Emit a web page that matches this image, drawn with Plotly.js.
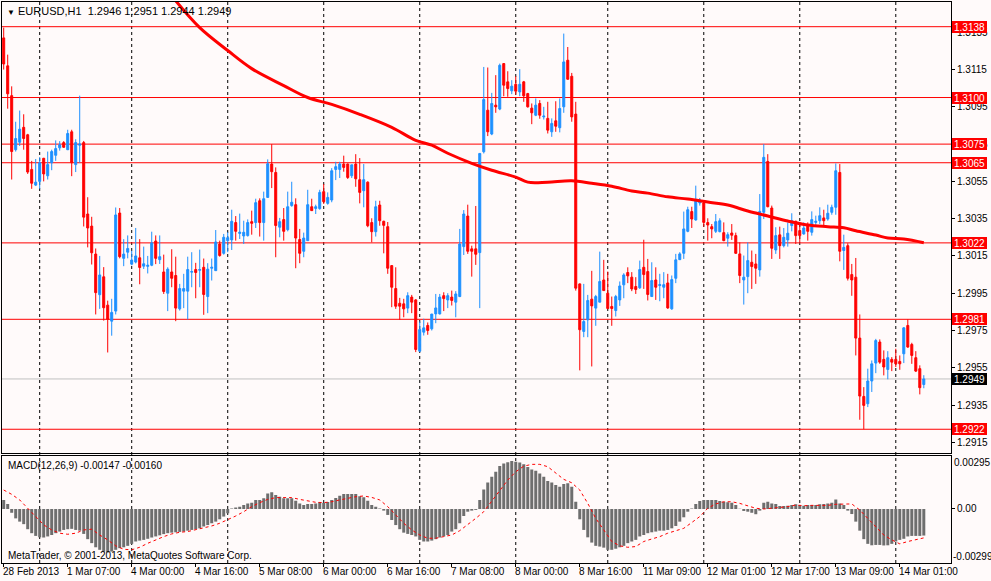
<!DOCTYPE html>
<html>
<head>
<meta charset="utf-8">
<script src="https://cdn.plot.ly/plotly-3.0.1.min.js"></script>
<style>
html,body{margin:0;padding:0;background:#FFFAFA;}
#chart{width:991px;height:581px;}
</style>
</head>
<body>
<div id="chart"></div>
<script>
// EURUSD H1 candles, 28 Feb 2013 15:00 .. 14 Mar 2013 07:00 (one entry per bar)
const open = [1.3132,1.3117,1.3101,1.3072,1.3076,1.3084,1.3080,1.30614,1.3053,1.3055,
1.30674,1.3058,1.3065,1.3069,1.3073,1.30758,1.3072,1.30816,1.3064,1.30744,
1.30758,1.30375,1.3031,1.3016,1.29942,1.30038,1.29886,1.2980,1.29854,1.3038,
1.30137,1.3017,1.30106,1.30117,1.3014,1.30095,1.30094,1.3010,1.3023,1.3013,
1.30064,1.2995,1.30064,1.30045,1.29866,1.29961,1.29961,1.30063,1.30077,1.30073,
1.30089,1.29932,1.30084,1.30071,1.30214,1.30164,1.30232,1.30236,1.30329,1.30271,
1.30257,1.30259,1.30334,1.30329,1.30446,1.30329,1.30464,1.30643,1.30598,1.30304,
1.30345,1.30291,1.3042,1.30425,1.30238,1.30175,1.30232,1.30414,1.30405,1.30404,
1.30495,1.30432,1.3045,1.30614,1.30614,1.30643,1.30643,1.3058,1.30643,1.30559,
1.3050,1.30546,1.30329,1.3028,1.30423,1.30336,1.30307,1.30098,1.29975,1.29896,
1.29893,1.2987,1.29929,1.29914,1.29639,1.29741,1.29777,1.29759,1.29839,1.29839,
1.29937,1.29914,1.29929,1.29902,1.29932,1.3020,1.30364,1.30188,1.30188,1.30168,
1.30709,1.30932,1.30804,1.30959,1.30938,1.31182,1.31084,1.31036,1.31071,1.3103,
1.31084,1.31021,1.30943,1.30905,1.30968,1.30896,1.30888,1.30816,1.30875,1.30838,
1.3095,1.3120,1.31114,1.30911,1.3000,1.29745,1.29807,1.29918,1.2987,1.29902,
1.30021,1.2995,1.29879,1.29857,1.29914,1.29995,1.30061,1.30036,1.29986,1.29979,
1.30089,1.30066,1.29932,1.30021,1.29991,1.29982,1.30005,1.29866,1.3003,1.3013,
1.30164,1.30282,1.30388,1.30343,1.30434,1.30434,1.30329,1.30307,1.30282,1.3028,
1.30275,1.30245,1.30273,1.30259,1.30161,1.30021,1.30039,1.30116,1.30107,1.30075,
1.30384,1.30657,1.30407,1.30182,1.30263,1.30205,1.30236,1.30313,1.30336,1.30286,
1.30268,1.30318,1.30277,1.3033,1.30339,1.30354,1.30348,1.30384,1.30411,1.30598,
1.30179,1.30205,1.3005,1.30036,1.29709,1.29396,1.29357,1.29479,1.29575,1.29688,
1.29595,1.29541,1.29595,1.29595,1.29584,1.29625,1.29777,1.29675,1.29604,1.29545,
1.2946];
const high = [1.31375,1.3123,1.3106,1.3087,1.3093,1.3091,1.30805,1.3066,1.3067,1.3068,
1.30676,1.3071,1.3072,1.3077,1.30766,1.30766,1.30827,1.30827,1.30776,1.3101,
1.30767,1.30465,1.3036,1.3019,1.3015,1.3009,1.2991,1.2992,1.3041,1.30407,
1.3024,1.3026,1.30178,1.3030,1.3024,1.3020,1.3015,1.3028,1.3026,1.3026,
1.30157,1.30089,1.30186,1.30146,1.3000,1.30054,1.30146,1.3017,1.30113,1.30184,
1.30136,1.30111,1.30136,1.30289,1.30232,1.30268,1.30277,1.30398,1.30364,1.30377,
1.30339,1.30346,1.30393,1.30457,1.30459,1.30495,1.30668,1.3075,1.30625,1.30354,
1.30407,1.30495,1.30548,1.30459,1.30295,1.30275,1.30505,1.30457,1.30425,1.30505,
1.30536,1.30491,1.30621,1.30655,1.30655,1.30688,1.30646,1.30639,1.30696,1.30675,
1.30643,1.3055,1.30352,1.30446,1.30446,1.30339,1.30332,1.3010,1.30089,1.29925,
1.2992,1.29955,1.29941,1.29918,1.29798,1.29813,1.29793,1.29839,1.29946,1.29946,
1.29955,1.2995,1.29964,1.29961,1.30295,1.30396,1.30425,1.30205,1.30418,1.3070,
1.31164,1.31161,1.31025,1.3112,1.31182,1.31185,1.31141,1.31093,1.31114,1.31152,
1.31089,1.31025,1.30968,1.30995,1.30986,1.3095,1.30977,1.30888,1.3098,1.30995,
1.31343,1.31271,1.31132,1.30977,1.30002,1.3000,1.29941,1.3007,1.29941,1.30173,
1.30129,1.30066,1.29932,1.29941,1.30013,1.30057,1.30089,1.30063,1.30036,1.30125,
1.30237,1.30134,1.30116,1.30089,1.30054,1.30063,1.30054,1.30045,1.30161,1.3017,
1.30388,1.30414,1.30414,1.30527,1.30461,1.30441,1.30352,1.30321,1.30375,1.30352,
1.3033,1.30277,1.30321,1.30275,1.30223,1.30152,1.30223,1.30179,1.30161,1.30482,
1.3075,1.30696,1.3042,1.30304,1.30307,1.3030,1.3033,1.30379,1.30339,1.3033,
1.3033,1.3033,1.30389,1.30366,1.30411,1.30398,1.30425,1.30425,1.30646,1.30643,
1.30264,1.30218,1.30107,1.30139,1.29836,1.29446,1.29545,1.29589,1.29705,1.29702,
1.29643,1.29639,1.29607,1.29652,1.29616,1.29768,1.2981,1.29684,1.29639,1.29563,
1.2951];
const low = [1.3115,1.3094,1.3056,1.3071,1.3074,1.3072,1.3059,1.3051,1.30525,1.3051,
1.3055,1.3056,1.3061,1.3066,1.30715,1.3073,1.30718,1.30578,1.3060,1.3065,
1.30308,1.30196,1.30104,1.29836,1.29866,1.29803,1.29632,1.29722,1.29836,1.30137,
1.30095,1.30137,1.3010,1.3011,1.29998,1.3008,1.30056,1.30095,1.30106,1.30107,
1.29946,1.29854,1.29982,1.2980,1.29857,1.2987,1.29809,1.29982,1.29923,1.29982,
1.29834,1.29843,1.30018,1.30071,1.30146,1.30157,1.3017,1.30182,1.30232,1.30241,
1.30214,1.30254,1.30264,1.3030,1.30254,1.30232,1.30464,1.30514,1.30143,1.3025,
1.30232,1.30282,1.30414,1.30084,1.30111,1.30143,1.30232,1.30393,1.30375,1.30398,
1.30429,1.30425,1.30438,1.30557,1.30568,1.30602,1.30563,1.30568,1.30521,1.30432,
1.30411,1.30304,1.30223,1.30254,1.30312,1.30164,1.30054,1.29875,1.29866,1.29807,
1.29821,1.29843,1.29843,1.29634,1.29634,1.29723,1.29727,1.2975,1.29789,1.29836,
1.29854,1.2987,1.29884,1.29821,1.29929,1.30155,1.30161,1.30039,1.30102,1.2987,
1.3070,1.30793,1.30798,1.30918,1.30932,1.31007,1.31004,1.31018,1.31016,1.31007,
1.30977,1.30946,1.30857,1.3090,1.30886,1.30882,1.30807,1.30789,1.30816,1.30813,
1.30918,1.31096,1.3087,1.29964,1.29536,1.29714,1.29714,1.29557,1.29775,1.29902,
1.29964,1.29864,1.29775,1.29825,1.29882,1.29923,1.30004,1.29961,1.29946,1.29973,
1.29973,1.29911,1.29932,1.29914,1.29907,1.29923,1.29866,1.29861,1.30004,1.30129,
1.30134,1.30277,1.3030,1.30339,1.3042,1.30307,1.30232,1.30245,1.30273,1.30277,
1.30229,1.3020,1.30236,1.30161,1.30004,1.29889,1.2995,1.29973,1.3000,1.30039,
1.30348,1.30411,1.30134,1.30161,1.30134,1.30196,1.3020,1.30282,1.30214,1.30223,
1.30264,1.30232,1.30259,1.30307,1.30321,1.30313,1.30339,1.30371,1.30371,1.30121,
1.30075,1.30018,1.29936,1.29616,1.29271,1.2922,1.29339,1.2942,1.29521,1.29571,
1.29509,1.29488,1.29532,1.29554,1.29539,1.29575,1.29657,1.29571,1.29527,1.29407,
1.2944];
const close = [1.3118,1.3102,1.3071,1.3078,1.3083,1.3078,1.3060,1.3054,1.30546,1.3065,
1.3059,1.3064,1.3071,1.30726,1.30746,1.30733,1.30807,1.3065,1.30758,1.3075,
1.30358,1.3030,1.30167,1.29953,1.30048,1.29872,1.2981,1.29847,1.3037,1.30146,
1.3016,1.3019,1.30128,1.3015,1.30088,1.30108,1.3010,1.3022,1.30137,1.30146,
1.29959,1.30079,1.3003,1.2987,1.29975,1.29975,1.30077,1.30066,1.30061,1.30077,
1.29943,1.30079,1.30089,1.30225,1.30152,1.3025,1.30248,1.30336,1.30282,1.30277,
1.30277,1.30329,1.30325,1.30436,1.30329,1.30457,1.30645,1.30602,1.30313,1.30334,
1.30282,1.30414,1.30438,1.30246,1.30164,1.30246,1.30425,1.30393,1.30414,1.30491,
1.30441,1.30464,1.30607,1.30629,1.30643,1.30625,1.30571,1.30639,1.30564,1.30491,
1.30559,1.30312,1.3028,1.30414,1.30339,1.30314,1.30084,1.29982,1.2988,1.2988,
1.29866,1.29937,1.29902,1.29648,1.29755,1.29764,1.2975,1.29838,1.29871,1.29929,
1.29921,1.29937,1.29911,1.29946,1.30214,1.30375,1.30175,1.30175,1.30159,1.3070,
1.30989,1.30816,1.30968,1.3095,1.31173,1.31066,1.31048,1.31061,1.31034,1.31071,
1.31009,1.3095,1.30918,1.30959,1.30905,1.3090,1.30825,1.30861,1.30846,1.30941,
1.31191,1.31098,1.30896,1.29977,1.29754,1.29798,1.29911,1.29882,1.29932,1.30013,
1.29964,1.29868,1.29868,1.29932,1.29989,1.30048,1.30043,1.29973,1.2997,1.30077,
1.3005,1.29943,1.30018,1.29982,1.29996,1.29996,1.29871,1.30023,1.30129,1.30161,
1.30295,1.30398,1.30348,1.3045,1.3045,1.3033,1.30316,1.30295,1.30334,1.30339,
1.30232,1.30264,1.30261,1.30164,1.30045,1.30036,1.30125,1.30093,1.30084,1.30389,
1.30679,1.30414,1.30191,1.30259,1.30205,1.3025,1.30272,1.30339,1.30259,1.30259,
1.3030,1.30282,1.30345,1.30336,1.30366,1.30339,1.30379,1.30411,1.30607,1.30175,
1.30196,1.3003,1.30021,1.29709,1.29398,1.29348,1.29479,1.29571,1.29696,1.2958,
1.29554,1.29604,1.2958,1.29571,1.29571,1.29764,1.29661,1.29616,1.29532,1.29443,
1.2949];

// Moving average (red) read at selected bars
const maIdx = [43,49,56,62,70,76,82,89,97,103,107,111,117,122,128,131,136,142,147,152,157,161,166,171,176,181,186,191,196,201,206,210,213,218,221,225,230];
const maVal = [1.31519,1.31375,1.31252,1.31155,1.31064,1.3100,1.30963,1.3091,1.3084,1.3077,1.30744,1.30701,1.30647,1.3061,1.30573,1.30546,1.30546,1.30553,1.3054,1.30524,1.30498,1.30487,1.30467,1.30455,1.30439,1.30423,1.30391,1.30364,1.30337,1.30316,1.30307,1.30301,1.30285,1.30262,1.30246,1.30241,1.30221];

// MACD(12,26,9) main (histogram), one per bar
const macdHist = [0.00050,0.00028,-0.00021,-0.00052,-0.00070,-0.00084,-0.00112,-0.00134,-0.00149,-0.00157,
-0.00158,-0.00152,-0.00144,-0.00134,-0.00125,-0.00116,-0.00112,-0.00110,-0.00116,-0.00120,
-0.00138,-0.00167,-0.00189,-0.00212,-0.00226,-0.00236,-0.00241,-0.00236,-0.00226,-0.00217,
-0.00212,-0.00204,-0.00193,-0.00180,-0.00175,-0.00171,-0.00165,-0.00158,-0.00152,-0.00146,
-0.00139,-0.00134,-0.00131,-0.00129,-0.00127,-0.00125,-0.00120,-0.00116,-0.00112,-0.00107,
-0.00097,-0.00089,-0.00079,-0.00070,-0.00057,-0.00042,-0.00024,0.00003,0.00008,0.00013,
0.00022,0.00031,0.00035,0.00050,0.00050,0.00059,0.00086,0.00092,0.00077,0.00068,
0.00059,0.00059,0.00059,0.00046,0.00031,0.00022,0.00028,0.00028,0.00031,0.00039,
0.00035,0.00039,0.00050,0.00061,0.00073,0.00083,0.00083,0.00083,0.00083,0.00071,
0.00065,0.00046,0.00022,0.00013,0.00003,-0.00009,-0.00033,-0.00061,-0.00089,-0.00112,
-0.00131,-0.00138,-0.00144,-0.00152,-0.00171,-0.00180,-0.00180,-0.00175,-0.00167,-0.00158,
-0.00152,-0.00144,-0.00125,-0.00112,-0.00079,-0.00039,-0.00015,-0.00009,-0.00005,0.00050,
0.00108,0.00146,0.00178,0.00206,0.00238,0.00252,0.00259,0.00265,0.00261,0.00257,
0.00248,0.00233,0.00219,0.00212,0.00197,0.00178,0.00155,0.00146,0.00133,0.00123,
0.00138,0.00142,0.00123,0.00040,-0.00057,-0.00116,-0.00157,-0.00186,-0.00204,-0.00208,
-0.00214,-0.00226,-0.00226,-0.00220,-0.00212,-0.00204,-0.00189,-0.00180,-0.00171,-0.00152,
-0.00144,-0.00134,-0.00129,-0.00125,-0.00120,-0.00120,-0.00116,-0.00107,-0.00094,-0.00070,
-0.00046,-0.00015,0.00003,0.00028,0.00044,0.00050,0.00050,0.00050,0.00050,0.00044,
0.00040,0.00037,0.00035,0.00022,0.00001,-0.00011,-0.00015,-0.00021,-0.00029,-0.00009,
0.00035,0.00040,0.00031,0.00028,0.00016,0.00016,0.00018,0.00022,0.00026,0.00022,
0.00018,0.00022,0.00022,0.00022,0.00026,0.00028,0.00031,0.00035,0.00053,0.00031,
0.00022,-0.00009,-0.00028,-0.00070,-0.00120,-0.00167,-0.00193,-0.00201,-0.00199,-0.00199,
-0.00202,-0.00201,-0.00193,-0.00180,-0.00171,-0.00165,-0.00152,-0.00149,-0.00149,-0.00149,
-0.00147];
// MACD signal line, read every second bar
const sigIdx = [0,2,4,6,8,10,12,14,16,18,20,22,24,26,28,30,32,34,36,38,40,42,44,46,48,50,52,54,56,58,
60,62,64,66,68,70,72,74,76,78,80,82,84,86,88,90,92,94,96,98,100,102,104,106,108,110,112,114,116,118,
120,122,124,126,128,130,132,134,136,138,140,142,144,146,148,150,152,154,156,158,160,162,164,166,168,170,172,174,176,178,
180,182,184,186,188,190,192,194,196,198,200,202,204,206,208,210,212,214,216,218,220,222,224,226,228,230];
const sigVal = [0.00105,0.00081,0.00050,0.00004,-0.00042,-0.00088,-0.00116,-0.00134,-0.00140,-0.00134,
-0.00116,-0.00112,-0.00144,-0.00171,-0.00204,-0.00223,-0.00226,-0.00212,-0.00190,-0.00171,
-0.00153,-0.00138,-0.00129,-0.00125,-0.00116,-0.00107,-0.00094,-0.00079,-0.00061,-0.00039,
-0.00015,0.00013,0.00035,0.00053,0.00063,0.00064,0.00063,0.00053,0.00044,0.00037,
0.00035,0.00040,0.00050,0.00059,0.00068,0.00072,0.00064,0.00050,0.00013,-0.00033,
-0.00079,-0.00116,-0.00144,-0.00162,-0.00162,-0.00153,-0.00144,-0.00120,-0.00088,-0.00052,
-0.00015,0.00044,0.00105,0.00160,0.00206,0.00237,0.00247,0.00247,0.00234,0.00197,
0.00164,0.00145,0.00105,0.00031,-0.00052,-0.00116,-0.00180,-0.00204,-0.00212,-0.00208,
-0.00180,-0.00166,-0.00153,-0.00134,-0.00120,-0.00107,-0.00075,-0.00042,0.00004,0.00028,
0.00040,0.00040,0.00031,0.00017,0.00004,0.00000,0.00004,0.00009,0.00013,0.00022,
0.00018,0.00020,0.00020,0.00020,0.00026,0.00026,0.00028,-0.00006,-0.00052,-0.00094,
-0.00144,-0.00171,-0.00193,-0.00180,-0.00171,-0.00160];

// Time axis labels (bar index -> label) and day separators
const tickIdx = [0,16,32,48,64,80,96,112,128,144,160,176,192,208,224];
const tickText = ['28 Feb 2013','1 Mar 07:00','4 Mar 00:00','4 Mar 16:00','5 Mar 08:00','6 Mar 00:00','6 Mar 16:00','7 Mar 08:00','8 Mar 00:00','8 Mar 16:00','11 Mar 09:00','12 Mar 01:00','12 Mar 17:00','13 Mar 09:00','14 Mar 01:00'];
const dayStarts = [9,32,56,80,104,128,151,175,199,223];

// Price scale ticks and horizontal levels
const priceTicks = [1.2915,1.2935,1.2955,1.2975,1.2995,1.3015,1.3035,1.3055,1.3075,1.3095,1.3115,1.3135];
const levels = [1.3138,1.3100,1.3075,1.3065,1.3022,1.2981,1.2922];
const macdScale = [0.00295,-0.00299];

const FONT = 'Liberation Sans, Arial, sans-serif';
const FS = 10;
const BG = '#FFFAFA';
const bars = open.map((_, i) => i);
const last = open.length - 1;
const bid = close[last];

const traces = [
  {
    type: 'candlestick', x: bars, open: open, high: high, low: low, close: close,
    xaxis: 'x', yaxis: 'y',
    increasing: {line: {color: '#1E90FF', width: 1}, fillcolor: '#1E90FF'},
    decreasing: {line: {color: '#FF0000', width: 1}, fillcolor: '#FF0000'},
    whiskerwidth: 0, hoverinfo: 'skip', showlegend: false
  },
  {
    type: 'scatter', mode: 'lines', x: maIdx, y: maVal, xaxis: 'x', yaxis: 'y',
    line: {color: '#FF0000', width: 3, shape: 'spline'}, hoverinfo: 'skip', showlegend: false
  },
  {
    type: 'bar', x: bars, y: macdHist, xaxis: 'x2', yaxis: 'y2', width: 0.75,
    marker: {color: '#6E6E6E', line: {width: 0}}, hoverinfo: 'skip', showlegend: false
  },
  {
    type: 'scatter', mode: 'lines', x: sigIdx, y: sigVal, xaxis: 'x2', yaxis: 'y2',
    line: {color: '#FF0000', width: 1, dash: 'dot'}, hoverinfo: 'skip', showlegend: false
  }
];

const shapes = [];
dayStarts.forEach(d => shapes.push({
  type: 'line', xref: 'x', yref: 'paper', x0: d, x1: d, y0: 0, y1: 1,
  line: {color: '#000000', width: 1, dash: '3px,3px'}, layer: 'below'
}));
levels.forEach(v => shapes.push({
  type: 'line', xref: 'paper', yref: 'y', x0: 0, x1: 1, y0: v, y1: v,
  line: {color: '#FF0000', width: 1}, layer: 'below'
}));
shapes.push({
  type: 'line', xref: 'paper', yref: 'y', x0: 0, x1: 1, y0: bid, y1: bid,
  line: {color: '#C0C0C0', width: 1}, layer: 'below'
});

const annotations = [];
function priceBox(v, color) {
  annotations.push({
    xref: 'paper', yref: 'y', x: 1, y: v, xanchor: 'left', yanchor: 'middle',
    xshift: 1, text: v.toFixed(4), showarrow: false,
    width: 33, height: 10, borderpad: 1, align: 'center', valign: 'middle',
    bgcolor: color, bordercolor: color, borderwidth: 0,
    font: {family: FONT, size: FS, color: '#FFFFFF'}
  });
}
levels.forEach(v => priceBox(v, '#FF0000'));
priceBox(bid, '#000000');

tickIdx.forEach((t, k) => annotations.push({
  xref: 'x2', yref: 'paper', x: t, y: 0, xanchor: 'left', yanchor: 'top',
  xshift: -3, yshift: -1, text: tickText[k], showarrow: false,
  font: {family: FONT, size: FS, color: '#000000'}
}));

const nb = '\u00A0';
annotations.push({
  xref: 'paper', yref: 'paper', x: 0, y: 1, xanchor: 'left', yanchor: 'top',
  xshift: 3, yshift: -1, showarrow: false,
  text: '<span style="font-size:8px">▼</span>' + nb + 'EURUSD,H1' + nb + nb + open[last].toFixed(4) + nb + high[last].toFixed(4) + nb + low[last].toFixed(4) + nb + close[last].toFixed(4),
  font: {family: FONT, size: 11, color: '#000000'}
});
annotations.push({
  xref: 'paper', yref: 'y2 domain', x: 0, y: 1, xanchor: 'left', yanchor: 'top',
  xshift: 4, yshift: -2, showarrow: false,
  text: 'MACD(12,26,9)' + nb + macdHist[last].toFixed(5) + nb + sigVal[sigVal.length - 1].toFixed(5),
  font: {family: FONT, size: FS, color: '#000000'}
});
annotations.push({
  xref: 'paper', yref: 'y2 domain', x: 0, y: 0, xanchor: 'left', yanchor: 'bottom',
  xshift: 4, yshift: 0, showarrow: false,
  text: 'MetaTrader, © 2001-2013, MetaQuotes Software Corp.',
  font: {family: FONT, size: FS, color: '#000000'}
});
annotations.push({
  xref: 'paper', yref: 'y2', x: 1, y: macdScale[0], xanchor: 'left', yanchor: 'top',
  xshift: 1, yshift: 1, showarrow: false, text: macdScale[0].toFixed(5),
  font: {family: FONT, size: FS, color: '#000000'}
});
annotations.push({
  xref: 'paper', yref: 'y2', x: 1, y: macdScale[1], xanchor: 'left', yanchor: 'bottom',
  xshift: 0, yshift: -1, showarrow: false, text: macdScale[1].toFixed(5),
  font: {family: FONT, size: FS, color: '#000000'}
});

const axisCommon = {
  showline: true, mirror: true, linecolor: '#000000', linewidth: 1,
  showgrid: false, zeroline: false, fixedrange: true
};
const layout = {
  width: 991, height: 581,
  margin: {l: 2, r: 40, t: 2, b: 18, pad: 0},
  paper_bgcolor: BG, plot_bgcolor: BG,
  showlegend: false, hovermode: false,
  boxgap: 0.5, boxgroupgap: 0,
  font: {family: FONT, size: FS, color: '#000000'},
  xaxis: Object.assign({}, axisCommon, {
    domain: [0, 1], anchor: 'y', range: [-0.425, 236.8],
    showticklabels: false, ticks: '', rangeslider: {visible: false}
  }),
  xaxis2: Object.assign({}, axisCommon, {
    domain: [0, 1], anchor: 'y2', matches: 'x', range: [-0.425, 236.8],
    tickmode: 'array', tickvals: tickIdx, ticktext: tickText,
    showticklabels: false, ticks: 'outside', ticklen: 3, tickcolor: '#000000'
  }),
  yaxis: Object.assign({}, axisCommon, {
    domain: [0.19608, 1], anchor: 'x', side: 'right',
    range: [1.290926, 1.315125],
    tickmode: 'array', tickvals: priceTicks, ticktext: priceTicks.map(v => v.toFixed(4)),
    ticks: 'outside', ticklen: 3, tickcolor: '#000000',
    tickfont: {family: FONT, size: FS, color: '#000000'}
  }),
  yaxis2: Object.assign({}, axisCommon, {
    domain: [0, 0.1913], anchor: 'x2', side: 'right',
    range: [macdScale[1], macdScale[0]],
    tickmode: 'array', tickvals: [0], ticktext: ['0.00'],
    ticks: 'outside', ticklen: 3, tickcolor: '#000000',
    tickfont: {family: FONT, size: FS, color: '#000000'}
  }),
  shapes: shapes,
  annotations: annotations
};

Plotly.newPlot('chart', traces, layout, {staticPlot: true, displayModeBar: false});
</script>
</body>
</html>
